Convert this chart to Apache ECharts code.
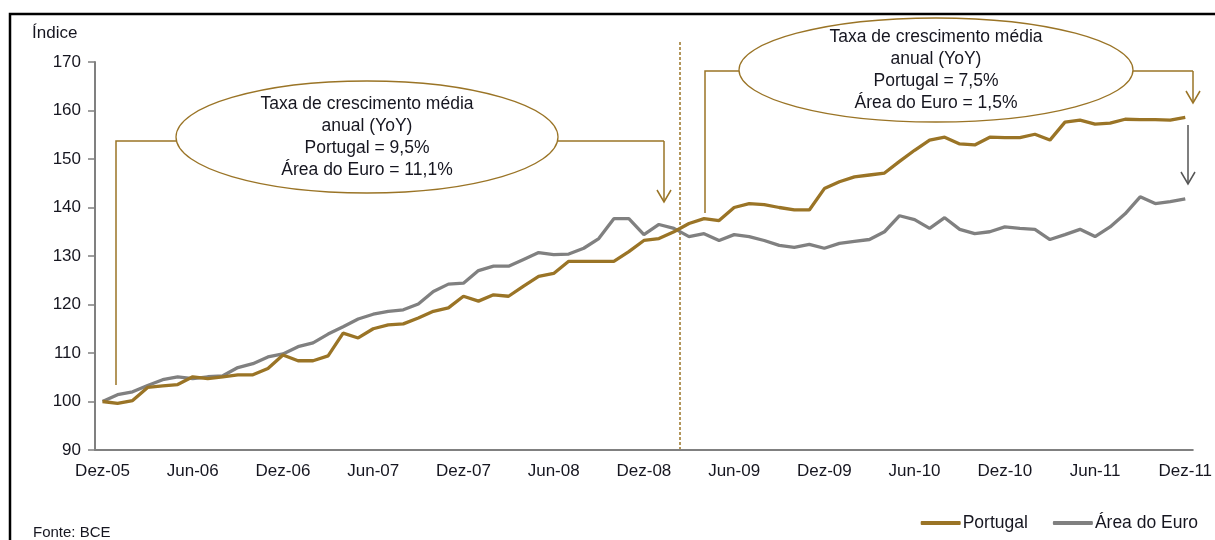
<!DOCTYPE html>
<html>
<head>
<meta charset="utf-8">
<script src="https://cdn.jsdelivr.net/npm/echarts@6/dist/echarts.min.js"></script>
<style>
  html, body { margin: 0; padding: 0; background: #fff; }
  #chart { width: 1215px; height: 540px; }
</style>
</head>
<body>
<div id="chart"></div>
<script>
// meses (pt) para as etiquetas do eixo
const monthNames = ["Jan", "Fev", "Mar", "Abr", "Mai", "Jun", "Jul", "Ago", "Set", "Out", "Nov", "Dez"];
const startYear = 2005;
const startMonth = 11; // Dez-05
const nMonths = 73;    // Dez-05 .. Dez-11

const categories = [];
for (let i = 0; i < nMonths; i++) {
  const m = (startMonth + i) % 12;
  const y = startYear + Math.floor((startMonth + i) / 12);
  categories.push(monthNames[m] + "-" + String(y).slice(2));
}

// Índice (Dez-05 = 100)
const portugal = [
  100.0, 99.6, 100.2, 102.9, 103.2, 103.5, 105.1, 104.7, 105.1, 105.5,
  105.5, 106.8, 109.6, 108.4, 108.4, 109.4, 114.1, 113.1, 115.0, 115.8,
  116.0, 117.2, 118.6, 119.3, 121.7, 120.7, 122.0, 121.7, 123.8, 125.8,
  126.4, 128.9, 128.9, 128.9, 128.9, 130.9, 133.2, 133.6, 135.0, 136.7,
  137.7, 137.3, 140.0, 140.8, 140.6, 140.0, 139.5, 139.5, 143.9, 145.3,
  146.3, 146.7, 147.1, 149.5, 151.8, 153.9, 154.5, 153.1, 152.9, 154.5,
  154.4, 154.4, 155.1, 153.9, 157.6, 158.0, 157.2, 157.4, 158.2, 158.1,
  158.1, 158.0, 158.6,
];

const areaEuro = [
  100.0, 101.4, 102.0, 103.3, 104.5, 105.1, 104.7, 105.1, 105.3, 107.0,
  107.8, 109.2, 109.8, 111.3, 112.1, 113.9, 115.4, 117.0, 118.0, 118.6,
  118.9, 120.1, 122.7, 124.2, 124.4, 127.0, 127.9, 127.9, 129.3, 130.7,
  130.3, 130.4, 131.6, 133.6, 137.7, 137.7, 134.4, 136.5, 135.7, 134.0,
  134.6, 133.2, 134.4, 134.0, 133.2, 132.2, 131.8, 132.4, 131.6, 132.6,
  133.0, 133.4, 135.0, 138.3, 137.5, 135.7, 137.9, 135.5, 134.6, 135.0,
  136.0, 135.7, 135.5, 133.4, 134.4, 135.5, 134.0, 136.0, 138.7, 142.2,
  140.8, 141.2, 141.8,
];

const boxLeft = [
  "Taxa de crescimento média",
  "anual (YoY)",
  "Portugal = 9,5%",
  "Área do Euro = 11,1%",
];
const boxRight = [
  "Taxa de crescimento média",
  "anual (YoY)",
  "Portugal = 7,5%",
  "Área do Euro = 1,5%",
];

const GOLD = "#9A7426";
const GREY = "#808080";
const TXT = "#161620";
const FONT = "'Liberation Sans', Arial, sans-serif";

const chart = echarts.init(document.getElementById("chart"), null, { renderer: "canvas" });

function arrowDown(x, y1, y2, color) {
  return [
    { type: "polyline", shape: { points: [[x, y1], [x, y2]] }, style: { stroke: color, lineWidth: 1.5, fill: null } },
    { type: "polyline", shape: { points: [[x - 7, y2 - 12], [x, y2], [x + 7, y2 - 12]] }, style: { stroke: color, lineWidth: 1.5, fill: null } },
  ];
}

function bubble(cx, cy, rx, ry, lines) {
  return [
    { type: "ellipse", shape: { cx, cy, rx, ry }, style: { stroke: GOLD, lineWidth: 1.3, fill: "#fff" }, z: 10 },
    {
      type: "text", x: cx, y: cy, z: 11,
      style: {
        text: lines.join("\n"), fill: TXT, font: "17.5px " + FONT,
        align: "center", verticalAlign: "middle", lineHeight: 22,
      },
    },
  ];
}

chart.setOption({
  backgroundColor: "#fff",
  animation: false,
  textStyle: { fontFamily: FONT },
  grid: { left: 95, right: 15, top: 62, bottom: 90 },
  legend: {
    right: 12, top: 509,
    itemWidth: 40, itemHeight: 4, itemGap: 25,
    icon: "roundRect",
    textStyle: { fontSize: 17.5, color: TXT, padding: [0, 0, 0, -3] },
    data: ["Portugal", "Área do Euro"],
  },
  xAxis: {
    type: "category",
    data: categories,
    boundaryGap: true,
    axisLine: { lineStyle: { color: GREY, width: 2 } },
    axisTick: { show: false },
    axisLabel: { interval: 5, color: TXT, fontSize: 17, margin: 13 },
  },
  yAxis: {
    type: "value",
    min: 90, max: 170, interval: 10,
    axisLine: { show: true, lineStyle: { color: GREY, width: 2 } },
    axisTick: { show: true, length: 7, lineStyle: { color: GREY, width: 1.5 } },
    splitLine: { show: false },
    axisLabel: { color: TXT, fontSize: 17, margin: 14 },
  },
  series: [
    {
      name: "Portugal", type: "line", data: portugal,
      showSymbol: false, symbol: "none",
      lineStyle: { color: GOLD, width: 3.3 }, itemStyle: { color: GOLD },
      z: 3,
    },
    {
      name: "Área do Euro", type: "line", data: areaEuro,
      showSymbol: false, symbol: "none",
      lineStyle: { color: GREY, width: 3.3 }, itemStyle: { color: GREY },
      z: 2,
    },
  ],
});

// anotações (posições em px)
const g = [
  { type: "rect", shape: { x: 10, y: 14, width: 1400, height: 700 }, style: { stroke: "#000", lineWidth: 2.5, fill: null }, z: 20 },
  { type: "text", x: 32, y: 33, style: { text: "Índice", fill: TXT, font: "17px " + FONT, verticalAlign: "middle" } },
  { type: "text", x: 33, y: 533, style: { text: "Fonte: BCE", fill: TXT, font: "15px " + FONT, verticalAlign: "middle" } },
  // linha vertical tracejada
  { type: "polyline", shape: { points: [[680, 42], [680, 449]] }, style: { stroke: GOLD, lineWidth: 1.5, lineDash: [3, 2], fill: null } },
  // bracket esquerdo
  { type: "polyline", shape: { points: [[116, 385], [116, 141], [180, 141]] }, style: { stroke: GOLD, lineWidth: 1.5, fill: null } },
  { type: "polyline", shape: { points: [[555, 141], [664, 141]] }, style: { stroke: GOLD, lineWidth: 1.5, fill: null } },
  ...arrowDown(664, 141, 202, GOLD),
  // bracket direito
  { type: "polyline", shape: { points: [[705, 213], [705, 71], [742, 71]] }, style: { stroke: GOLD, lineWidth: 1.5, fill: null } },
  { type: "polyline", shape: { points: [[1130, 71], [1193, 71]] }, style: { stroke: GOLD, lineWidth: 1.5, fill: null } },
  ...arrowDown(1193, 71, 103, GOLD),
  ...arrowDown(1188, 125, 184, "#555"),
  ...bubble(367, 137, 191, 56, boxLeft),
  ...bubble(936, 70, 197, 52, boxRight),
];
chart.setOption({ graphic: g });

window.addEventListener("resize", () => chart.resize());
</script>
</body>
</html>
